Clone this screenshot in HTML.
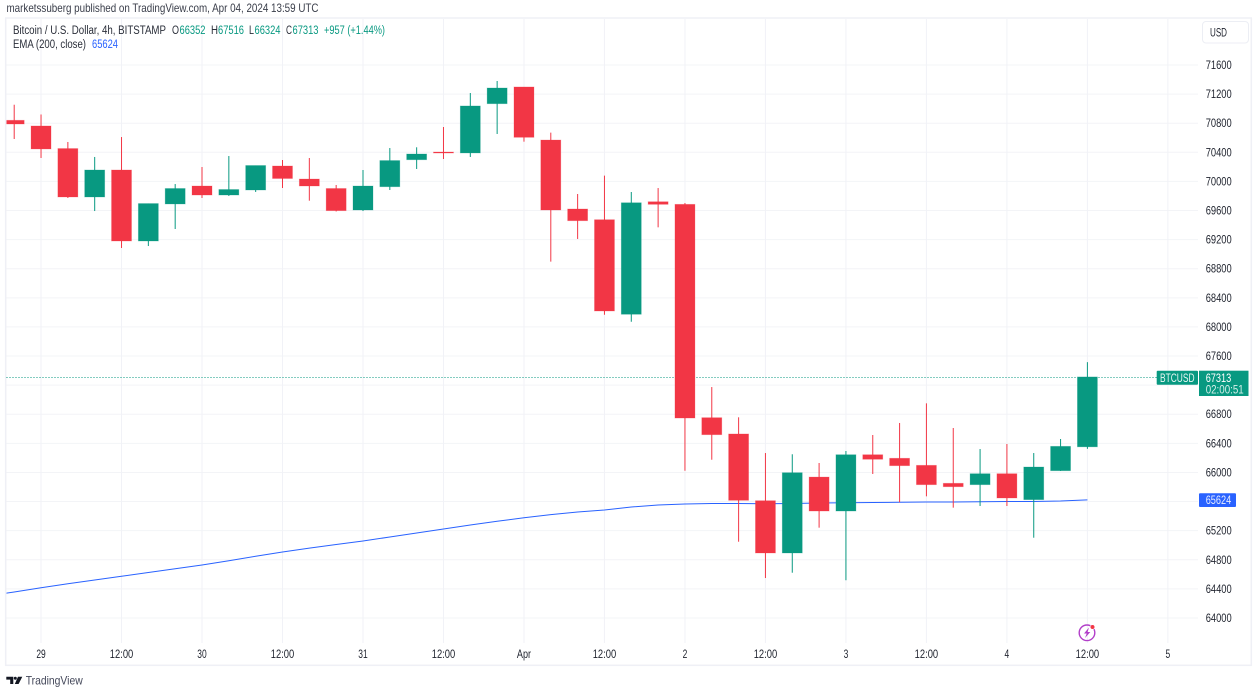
<!DOCTYPE html>
<html lang="en">
<head>
<meta charset="utf-8">
<title>BTCUSD 4h chart</title>
<style>
html,body{margin:0;padding:0;background:#fff;width:1258px;height:694px;overflow:hidden}
svg{display:block;font-family:"Liberation Sans",sans-serif}
</style>
</head>
<body>
<svg id="chart" xmlns="http://www.w3.org/2000/svg" width="1258" height="694" viewBox="0 0 1258 694">
  <defs><clipPath id="plot-clip"><rect x="6.5" y="19" width="1191.5" height="646"/></clipPath></defs>
  <rect x="0" y="0" width="1258" height="694" fill="#ffffff"/>
  <text x="6.5" y="12" font-size="12" fill="#3a3e4a" textLength="312" lengthAdjust="spacingAndGlyphs">marketssuberg published on TradingView.com, Apr 04, 2024 13:59 UTC</text>
  <rect x="5.7" y="18" width="1245.6" height="647.3" fill="none" stroke="#eff0f6" stroke-width="1.5"/>
  <g id="grid"></g>
  <g id="ema" clip-path="url(#plot-clip)"></g>
  <g id="last-line"></g>
  <g id="candles" clip-path="url(#plot-clip)"></g>
  <g id="y-axis"></g>
  <g id="x-axis"></g>

  <g font-size="11.5" fill="#2a2e39">
    <text x="13" y="34" textLength="153" lengthAdjust="spacingAndGlyphs">Bitcoin / U.S. Dollar, 4h, BITSTAMP</text>
    <text x="172" y="34" textLength="7" lengthAdjust="spacingAndGlyphs">O</text>
    <text x="179.5" y="34" fill="#089981" textLength="26" lengthAdjust="spacingAndGlyphs">66352</text>
    <text x="211" y="34" textLength="7" lengthAdjust="spacingAndGlyphs">H</text>
    <text x="218" y="34" fill="#089981" textLength="26" lengthAdjust="spacingAndGlyphs">67516</text>
    <text x="249" y="34" textLength="5" lengthAdjust="spacingAndGlyphs">L</text>
    <text x="254.5" y="34" fill="#089981" textLength="26" lengthAdjust="spacingAndGlyphs">66324</text>
    <text x="286" y="34" textLength="6" lengthAdjust="spacingAndGlyphs">C</text>
    <text x="292.5" y="34" fill="#089981" textLength="26" lengthAdjust="spacingAndGlyphs">67313</text>
    <text x="324" y="34" fill="#089981" textLength="61" lengthAdjust="spacingAndGlyphs">+957 (+1.44%)</text>
    <text x="13" y="48" textLength="73" lengthAdjust="spacingAndGlyphs">EMA (200, close)</text>
    <text x="92" y="48" fill="#2962ff" textLength="26" lengthAdjust="spacingAndGlyphs">65624</text>
  </g>

  <g>
    <rect x="1202.5" y="21.5" width="46" height="21.5" rx="3.5" fill="#fff" stroke="#eceef4"/>
    <text x="1210" y="36.5" font-size="11.5" fill="#1e222d" textLength="17" lengthAdjust="spacingAndGlyphs">USD</text>
  </g>

  <g>
    <rect x="1156.7" y="370.7" width="41.3" height="14" rx="1" fill="#089981"/>
    <text x="1160" y="381.8" font-size="11.5" fill="#e9f7f4" textLength="34.5" lengthAdjust="spacingAndGlyphs">BTCUSD</text>
  </g>
  <g>
    <rect x="1199" y="370.7" width="49.5" height="25.3" fill="#089981"/>
    <text x="1205.7" y="382" font-size="11.5" fill="#ffffff" textLength="25.5" lengthAdjust="spacingAndGlyphs">67313</text>
    <text x="1205.7" y="393.7" font-size="11.5" fill="#d5efe9" textLength="38" lengthAdjust="spacingAndGlyphs">02:00:51</text>
  </g>
  <g>
    <rect x="1199" y="493.3" width="37" height="13.7" rx="1" fill="#2962ff"/>
    <text x="1205.7" y="504.2" font-size="11.5" fill="#e6ecff" textLength="25.5" lengthAdjust="spacingAndGlyphs">65624</text>
  </g>

  <g>
    <circle cx="1087" cy="632.8" r="7.8" fill="none" stroke="#b23ec9" stroke-width="1.4"/>
    <polygon points="1089,627.5 1084,633.5 1086.7,633.5 1085,638 1090.3,632 1087.6,632" fill="#b23ec9"/>
    <circle cx="1092.5" cy="627" r="2.3" fill="#f23645" stroke="#fff" stroke-width="0.6"/>
  </g>

  <g>
    <g fill="#131722">
      <polygon points="6.3,676.7 13.3,676.7 13.3,684 10.2,684 10.2,679.6 6.3,679.6"/>
      <circle cx="15.3" cy="678.2" r="1.5"/>
      <polygon points="18,676.7 22.3,676.7 18.6,684 14.8,684"/>
    </g>
    <text x="25.7" y="684.5" font-size="12" fill="#44485a" textLength="57" lengthAdjust="spacingAndGlyphs">TradingView</text>
  </g>
</svg>

<script>
// ---- chart data (USD) ----
const opens  = [70840,70762,70452,69786,70157,69181,69690,69937,69813,69882,70212,70033,69903,69607,69927,70298,70404,70391,71068,71298,70569,69621,69474,68174,69721,69685,66753,66529,65612,64893,65937,65470,66244,66195,66098,65851,65832,65983,65626,66024,66352];
const highs  = [71054,70920,70542,70336,70610,69696,69964,70198,70349,70219,70294,70322,69951,70157,70459,70469,70748,71215,71380,71298,70670,69827,70079,69855,69909,69703,67174,66758,66267,66250,66130,66295,66515,66680,66950,66611,66322,66391,66267,66460,67516];
const lows   = [70583,70322,69772,69593,69085,69112,69346,69772,69800,69855,69909,69735,69587,69593,69882,70171,70308,70336,70652,70546,68897,69209,68168,68072,69369,66024,66175,65048,64549,64622,65241,64518,65979,65590,65672,65516,65539,65539,65103,66020,66324];
const closes = [70789,70446,69786,70157,69181,69696,69903,69813,69889,70219,70040,69937,69598,69937,70287,70377,70391,71037,71284,70606,69607,69460,68219,69707,69685,66748,66519,65617,64893,65997,65470,66244,66181,66093,65832,65804,65983,65649,66075,66359,67313];
const emaPrevious = 64302;
const emaValues = [64357,64416,64471,64522,64573,64625,64676,64728,64787,64848,64907,64960,65010,65058,65113,65168,65223,65278,65329,65377,65421,65456,65484,65525,65553,65566,65573,65573,65570,65573,65580,65584,65587,65590,65594,65594,65598,65601,65601,65608,65624];
const priceTicks = [71600,71200,70800,70400,70000,69600,69200,68800,68400,68000,67600,66800,66400,66000,65200,64800,64400,64000];
const gridPrices = [71600,71200,70800,70400,70000,69600,69200,68800,68400,68000,67600,67200,66800,66400,66000,65600,65200,64800,64400,64000];
const timeLabels = ["29","12:00","30","12:00","31","12:00","Apr","12:00","2","12:00","3","12:00","4","12:00","5"];
const lastPrice = 67313;

// ---- axis functions ----
function xScale(i){ return 14.2 + 26.83 * i; }
function yScale(p){ return 65 + (71600 - p) * 0.07276; }
function timeTickIndex(k){ return 1 + k * 3; }

const NS = "http://www.w3.org/2000/svg";
const gridLayer = document.getElementById("grid");
const emaLayer = document.getElementById("ema");
const lastLayer = document.getElementById("last-line");
const candleLayer = document.getElementById("candles");
const yAxisLayer = document.getElementById("y-axis");
const xAxisLayer = document.getElementById("x-axis");
const GREEN = "#089981", RED = "#f23645";

gridPrices.forEach(function(p){
  const el = document.createElementNS(NS, "line");
  
  
  el.setAttribute("x1", 6.5);
  el.setAttribute("x2", 1198);
  el.setAttribute("y1", yScale(p));
  el.setAttribute("y2", yScale(p));
  el.setAttribute("stroke", "#f3f4f7");
  gridLayer.appendChild(el);
});

timeLabels.forEach(function(label, k){
  const x = xScale(timeTickIndex(k));
  const el = document.createElementNS(NS, "line");
  
  
  el.setAttribute("x1", x);
  el.setAttribute("x2", x);
  el.setAttribute("y1", 19);
  el.setAttribute("y2", 643);
  el.setAttribute("stroke", "#f1f2f7");
  gridLayer.appendChild(el);

  const t = document.createElementNS(NS, "text");
  
  
  t.setAttribute("x", x);
  t.setAttribute("y", 658);
  t.setAttribute("text-anchor", "middle");
  t.setAttribute("font-size", "11.5");
  t.setAttribute("fill", "#1e222d");
  t.setAttribute("textLength", label.length * 4.7);
  t.setAttribute("lengthAdjust", "spacingAndGlyphs");
  t.textContent = label;
  xAxisLayer.appendChild(t);
});

priceTicks.forEach(function(p){
  const t = document.createElementNS(NS, "text");
  
  
  t.setAttribute("x", 1205.7);
  t.setAttribute("y", yScale(p) + 4);
  t.setAttribute("font-size", "11.5");
  t.setAttribute("fill", "#1e222d");
  t.setAttribute("textLength", "26");
  t.setAttribute("lengthAdjust", "spacingAndGlyphs");
  t.textContent = String(p);
  yAxisLayer.appendChild(t);
});

const emaLine = document.createElementNS(NS, "polyline");


emaLine.setAttribute("fill", "none");
emaLine.setAttribute("stroke", "#2962ff");
emaLine.setAttribute("stroke-width", "1");
emaLine.setAttribute("points", [xScale(-1) + "," + yScale(emaPrevious)].concat(emaValues.map(function(v, i){ return xScale(i) + "," + yScale(v); })).join(" "));
emaLayer.appendChild(emaLine);

const dotted = document.createElementNS(NS, "line");


dotted.setAttribute("x1", 6.5);
dotted.setAttribute("x2", 1157);
dotted.setAttribute("y1", Math.round(yScale(lastPrice)) + 0.5);
dotted.setAttribute("y2", Math.round(yScale(lastPrice)) + 0.5);
dotted.setAttribute("stroke", GREEN);
dotted.setAttribute("stroke-width", "1");
dotted.setAttribute("stroke-dasharray", "1 2");
lastLayer.appendChild(dotted);

opens.forEach(function(o, i){
  const c = closes[i];
  const color = c >= o ? GREEN : RED;
  const x = xScale(i);
  const wick = document.createElementNS(NS, "line");
  
  
  wick.setAttribute("x1", x);
  wick.setAttribute("x2", x);
  wick.setAttribute("y1", yScale(highs[i]));
  wick.setAttribute("y2", yScale(lows[i]));
  wick.setAttribute("stroke", color);
  wick.setAttribute("stroke-width", "1");
  candleLayer.appendChild(wick);

  const body = document.createElementNS(NS, "rect");
  const top = yScale(Math.max(o, c));
  const bottom = yScale(Math.min(o, c));
  
  
  body.setAttribute("x", x - 10);
  body.setAttribute("y", top);
  body.setAttribute("width", 20);
  body.setAttribute("height", Math.max(bottom - top, 1));
  body.setAttribute("fill", color);
  body.setAttribute("stroke", color);
  body.setAttribute("stroke-opacity", "0.3");
  body.setAttribute("stroke-width", "0.8");
  candleLayer.appendChild(body);
});
</script>
</body>
</html>
